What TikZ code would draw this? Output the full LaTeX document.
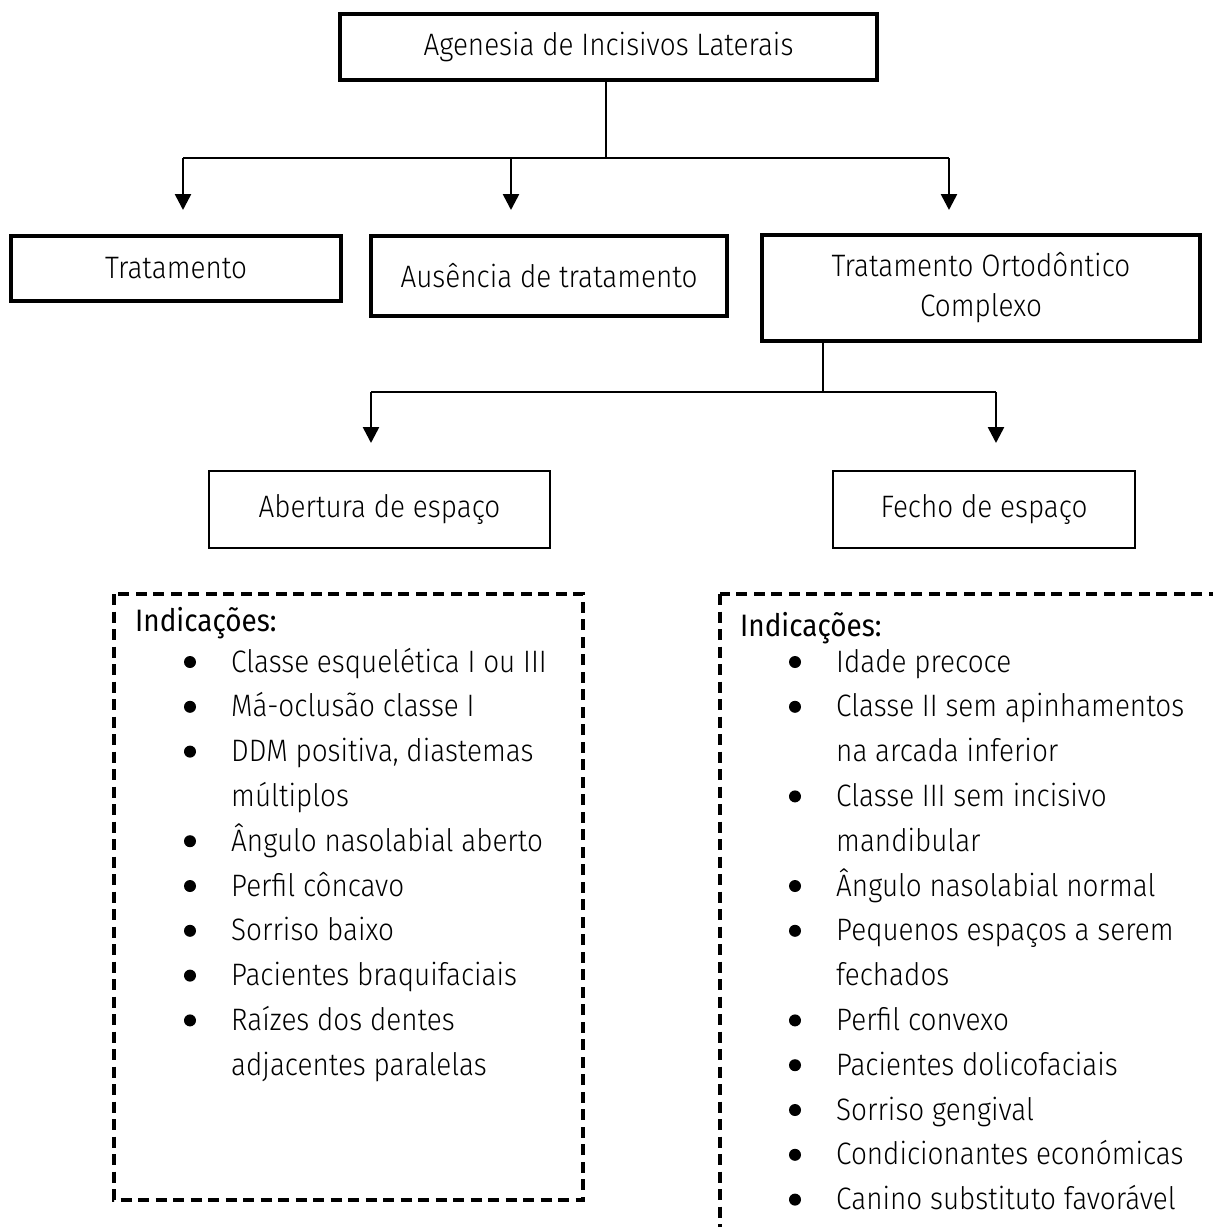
\documentclass[tikz,border=0pt]{standalone}
\usepackage{fontspec}
\setmainfont{Fira Sans Light}[FakeStretch=0.9]
\newfontfamily\headfont{Fira Sans}[FakeStretch=0.9]
\usetikzlibrary{arrows.meta}
\tikzset{
  txt/.style={font=\fontsize{31}{40}\selectfont},
  bigbox/.style={draw, line width=4.5pt, inner sep=0pt, align=center, txt},
  smallbox/.style={draw, line width=2pt, inner sep=0pt, align=center, txt},
  conn/.style={line width=1.4pt},
  arr/.style={line width=2.6pt, -{Triangle[width=16pt,length=16pt]}},
  dashbox/.style={line width=3.2pt, dash pattern=on 11pt off 6.5pt},
  item/.style={anchor=base west, inner sep=0pt, txt},
  head/.style={anchor=base west, inner sep=0pt, font=\headfont\fontsize{31}{40}\selectfont},
  dot/.style={circle, fill, inner sep=0pt, minimum size=12pt}
}
\begin{document}
\begin{tikzpicture}[x=1pt,y=-1pt]
\useasboundingbox (0,0) rectangle (1213,1227);

% boxes
\node[bigbox, minimum width=537pt, minimum height=66pt] (top) at (608.5,47) {Agenesia de Incisivos Laterais};
\node[bigbox, minimum width=330pt, minimum height=65pt] (trat) at (176,268.5) {Tratamento};
\node[bigbox, minimum width=356pt, minimum height=80pt] (aus) at (549,276) {Ausência de tratamento};
\node[bigbox, minimum width=438pt, minimum height=106pt] (toc) at (981,288) {Tratamento Ortodôntico\\Complexo};
\node[smallbox, minimum width=341pt, minimum height=77pt] (abe) at (379.5,509.5) {Abertura de espaço};
\node[smallbox, minimum width=302pt, minimum height=77pt] (fec) at (984,509.5) {Fecho de espaço};

% first level connectors
\coordinate (j1) at (606,158);
\coordinate (h1a) at (183,158);
\coordinate (h1b) at (511,158);
\coordinate (h1c) at (949,158);
\coordinate (e1a) at (183,210);
\coordinate (e1b) at (511,210);
\coordinate (e1c) at (949,210);
\draw[conn] (top.south -| j1) -- (j1);
\draw[conn] (h1a) -- (h1c);
\draw[arr] (h1a) -- (e1a);
\draw[arr] (h1b) -- (e1b);
\draw[arr] (h1c) -- (e1c);

% second level connectors
\coordinate (j2) at (823,392);
\coordinate (h2a) at (371,392);
\coordinate (h2b) at (996,392);
\coordinate (e2a) at (371,443);
\coordinate (e2b) at (996,443);
\draw[conn] (toc.south -| j2) -- (j2);
\draw[conn] (h2a) -- (h2b);
\draw[arr] (h2a) -- (e2a);
\draw[arr] (h2b) -- (e2b);

% dashed boxes
\draw[dashbox] (114,594) rectangle (583,1200);
\begin{scope}
  \clip (0,0) rectangle (1213,1227);
  \draw[dashbox] (720,594) rectangle (1240,1260);
\end{scope}

% left list
\node[head] (lh) at (135,631) {Indicações:};
\foreach \i/\t/\b in {0/{Classe esquelética I ou III}/1, 1/{Má-oclusão classe I}/1, 2/{DDM positiva, diastemas}/1, 3/{múltiplos}/0, 4/{Ângulo nasolabial aberto}/1, 5/{Perfil côncavo}/1, 6/{Sorriso baixo}/1, 7/{Pacientes braquifaciais}/1, 8/{Raízes dos dentes}/1, 9/{adjacentes paralelas}/0}{
  \node[item] (L\i) at (231,{672+\i*44.8}) {\t};
  \ifnum\b=1 \node[dot] (LB\i) at (190,{662+\i*44.8}) {};\fi
}

% right list
\node[head] (rh) at (740,636) {Indicações:};
\foreach \i/\t/\b in {0/{Idade precoce}/1, 1/{Classe II sem apinhamentos}/1, 2/{na arcada inferior}/0, 3/{Classe III sem incisivo}/1, 4/{mandibular}/0, 5/{Ângulo nasolabial normal}/1, 6/{Pequenos espaços a serem}/1, 7/{fechados}/0, 8/{Perfil convexo}/1, 9/{Pacientes dolicofaciais}/1, 10/{Sorriso gengival}/1, 11/{Condicionantes económicas}/1, 12/{Canino substituto favorável}/1}{
  \node[item] (R\i) at (836,{672+\i*44.8}) {\t};
  \ifnum\b=1 \node[dot] (RB\i) at (795,{662+\i*44.8}) {};\fi
}
\end{tikzpicture}
\end{document}
